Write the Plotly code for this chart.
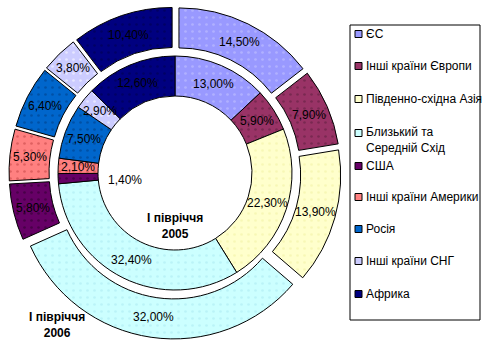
import math
import plotly.graph_objects as go

# ---------------- data ----------------
categories = ["ЄС", "Інші країни Європи", "Південно-східна Азія",
              "Близький та Середній Схід", "США", "Інші країни Америки",
              "Росія", "Інші країни СНГ", "Африка"]
legend_labels = ["ЄС", "Інші країни Європи", "Південно-східна Азія",
                 "Близький та<br>Середній Схід", "США", "Інші країни Америки",
                 "Росія", "Інші країни СНГ", "Африка"]
values_2005 = [13.00, 5.90, 22.30, 32.40, 1.40, 2.10, 7.50, 2.90, 12.60]
values_2006 = [14.50, 7.90, 13.90, 32.00, 5.80, 5.30, 6.40, 3.80, 10.40]
ring_titles = ["І півріччя<br>2005", "І півріччя<br>2006"]

colors = ["#9999FF", "#993366", "#FFFFCC", "#CCFFFF", "#660066",
          "#FF8080", "#0066CC", "#CCCCFF", "#000080"]
dot_colors = ["#C8C8FF", "#5A1E3C", "#F0F0A0", "#A8E8F0", "#2A002A",
              "#C04040", "#003A80", "#FFFFFF", "#00004A"]

# ---------------- geometry (pixels) ----------------
W, H = 488, 357
CX, CY = 175, 173
R_IN_HOLE, R_IN = 77, 117          # inner ring
R_OUT_HOLE, R_OUT = 117, 157       # outer ring (before explosion)
EXPLODE = 9
pull = EXPLODE / R_OUT

def fmt(v):
    return f"{v:.2f}".replace(".", ",") + "%"

def dom(half):
    return dict(x=[(CX - half) / W, (CX + half) / W],
                y=[1 - (CY + half) / H, 1 - (CY - half) / H])

pattern = dict(shape=".", fillmode="overlay", fgcolor=dot_colors,
               size=7, solidity=0.12)

fig = go.Figure()
fig.add_trace(go.Pie(
    labels=categories, values=values_2005, sort=False, direction="clockwise",
    rotation=0, hole=R_IN_HOLE / R_IN, domain=dom(R_IN), textinfo="none",
    marker=dict(colors=colors, line=dict(color="black", width=1), pattern=pattern),
    showlegend=False, hoverinfo="label+value"))
fig.add_trace(go.Pie(
    labels=categories, values=values_2006, sort=False, direction="clockwise",
    rotation=0, hole=R_OUT_HOLE / R_OUT, pull=[pull] * len(values_2006),
    domain=dom(R_OUT * (1 + pull)), textinfo="none",
    marker=dict(colors=colors, line=dict(color="black", width=1), pattern=pattern),
    showlegend=False, hoverinfo="label+value"))

annotations = []
font = dict(family="Liberation Sans, Arial, sans-serif", size=12, color="black")

def add_label(text, r, frac_mid, yshift=0):
    a = 2 * math.pi * frac_mid
    x = CX + r * math.sin(a)
    y = CY - r * math.cos(a)
    annotations.append(dict(x=x / W, y=1 - y / H, xref="paper", yref="paper",
                            text=text, showarrow=False, font=font,
                            xanchor="center", yanchor="middle", yshift=yshift))

def ring_labels(values, r_mid, special=None):
    total = sum(values)
    cum = 0
    for i, v in enumerate(values):
        mid = (cum + v / 2) / total
        cum += v
        if special and i in special:
            add_label(fmt(v), special[i][0], mid, special[i][1])
        else:
            add_label(fmt(v), r_mid, mid)

ring_labels(values_2005, (R_IN_HOLE + R_IN) / 2, special={4: (50, -5)})
ring_labels(values_2006, (R_OUT_HOLE + R_OUT) / 2 + EXPLODE)

bold = dict(family="Liberation Sans, Arial, sans-serif", size=12, color="black")
annotations.append(dict(x=CX / W, y=1 - 226 / H, xref="paper", yref="paper",
                        text="<b>" + ring_titles[0] + "</b>", showarrow=False,
                        font=bold, xanchor="center", yanchor="middle"))
annotations.append(dict(x=57 / W, y=1 - 325 / H, xref="paper", yref="paper",
                        text="<b>" + ring_titles[1] + "</b>", showarrow=False,
                        font=bold, xanchor="center", yanchor="middle"))

# ---------------- legend (drawn manually) ----------------
shapes = [dict(type="rect", xref="paper", yref="paper",
               x0=350 / W, x1=480 / W, y0=1 - 320 / H, y1=1 - 25 / H,
               line=dict(color="black", width=1), fillcolor="white", layer="below")]
entry_y = [34, 66, 99, 140, 166, 197, 229, 261, 294]
symbol_y = [34, 66, 99, 133, 166, 197, 229, 261, 294]
for lab, col, ty, sy in zip(legend_labels, colors, entry_y, symbol_y):
    shapes.append(dict(type="rect", xref="paper", yref="paper",
                       x0=355 / W, x1=362 / W, y0=1 - (sy + 3.5) / H, y1=1 - (sy - 3.5) / H,
                       line=dict(color="black", width=1), fillcolor=col))
    annotations.append(dict(x=364 / W, y=1 - ty / H, xref="paper", yref="paper",
                            text=lab, showarrow=False, font=font, align="left",
                            xanchor="left", yanchor="middle"))

fig.update_layout(width=W, height=H, autosize=False,
                  margin=dict(l=0, r=0, t=0, b=0, pad=0),
                  paper_bgcolor="white", plot_bgcolor="white",
                  annotations=annotations, shapes=shapes, showlegend=False)

fig.write_html("out.html", config={"displayModeBar": False},
               post_script="document.body.style.margin='0';document.body.style.overflow='hidden';")
